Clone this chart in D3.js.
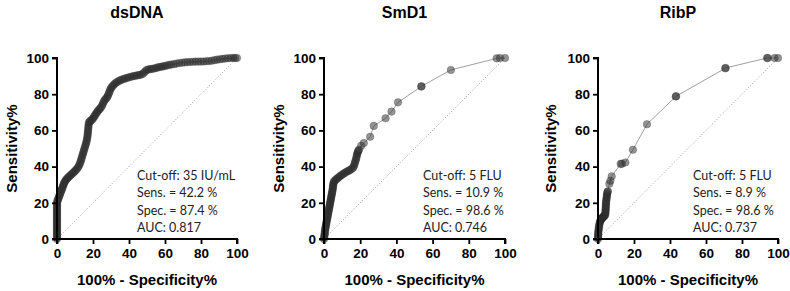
<!DOCTYPE html>
<html><head><meta charset="utf-8">
<script src="https://cdn.jsdelivr.net/npm/d3@7"></script>
<style>body{margin:0;background:#fff}svg{display:block}</style>
</head><body>
<svg id="c" width="790" height="291"></svg>
<script>
const titles = ["dsDNA", "SmD1", "RibP"];
const tickValues = [0, 20, 40, 60, 80, 100];
const xTitle = "100% - Specificity%";
const yTitle = "Sensitivity%";

const dsdnaX = [0,0,0,0,0,0,0,0,0,0,0,0,0,0,0,0,0,0,0,0,0,0,0,0,0,0,
  0.2,0.4,0.7,1,1.3,1.6,1.9,2.2,2.5,2.8,3.1,3.4,3.7,4,4.4,4.8,5.3,5.8,6.3,6.9,7.5,8.1,8.7,9.3,9.9,10.5,11.1,11.7,12.2,12.6,13,13.3,13.6,13.9,14.2,14.5,14.8,15.1,15.4,15.7,16,16.3,16.5,16.7,16.9,17,17.1,17.2,17.3,17.4,17.5,17.6,17.7,18.2,18.8,19.4,19.9,20.4,20.9,21.4,21.9,22.4,22.9,23.5,24.1,24.7,25.2,25.6,26,26.5,27.1,27.7,28.2,28.6,29,29.4,29.8,30.3,30.9,31.5,32.2,33,33.8,34.7,35.6,
  36.6,37.6,38.6,39.6,40.6,41.6,42.6,43.6,44.6,45.6,46.6,47.6,48.4,49.2,50,51,52,53,54,55,56,57,58,59,60,61.2,62.4,63.6,65,66.5,68,69.5,71,72.5,74,75.5,77,78.5,80,81.5,83,84.5,86,87.5,89,90.5,92,93.5,95,96.5,98,99,100];
const dsdnaY = [0,0.8,1.6,2.4,3.2,4,4.8,5.6,6.4,7.2,8,8.8,9.6,10.4,11.2,12,12.8,13.6,14.4,15.2,16,16.8,17.6,18.4,19.2,20,
  20.8,21.5,22.2,23,23.8,24.6,25.4,26.2,27,27.8,28.6,29.4,30.2,31,31.7,32.4,33,33.6,34.1,34.7,35.2,35.8,36.3,36.9,37.5,38.1,38.8,39.6,40.5,41.4,42.4,43.4,44.4,45.4,46.4,47.4,48.4,49.4,50.4,51.4,52.4,53.4,54.4,55.4,56.4,57.4,58.4,59.4,60.4,61.4,62.4,63.4,64.4,65,65.4,65.9,66.5,67.2,68,68.8,69.6,70.3,71,71.6,72.3,73.1,74,75,76,76.8,77.4,78.1,79,80,81,82,83,83.8,84.5,85.2,85.9,86.5,87,87.5,87.9,
  88.3,88.6,88.9,89.2,89.5,89.8,90,90.2,90.4,90.6,90.8,91.2,92,92.8,93.5,93.7,93.9,94,94.2,94.5,94.8,95,95.2,95.4,95.6,95.9,96.2,96.4,96.6,96.9,97.2,97.4,97.6,97.7,97.8,97.9,98,98,98,98.1,98.2,98.3,98.5,98.8,99.1,99.3,99.5,99.7,99.9,100,100,100,100];

const smd1X = [0,0.1,0.2,0.3,0.4,0.5,0.6,0.7,0.85,1,1.15,1.3,1.45,1.6,1.75,1.9,2.05,2.2,2.35,2.5,2.65,2.8,2.95,3.1,3.25,3.4,3.55,3.7,3.85,4,4.15,4.3,4.45,4.6,4.75,4.85,4.95,5.05,5.15,5.3,5.6,6.2,6.8,7.4,8,8.7,9.4,10.1,10.8,11.6,12.4,13.2,14,14.8,15.6,16.2,16.6,16.9,17.2,17.5,17.8,18,18.2,18.4,18.7,19,19.4,20.5,22,25.5,27.5,34,37.3,40.9,53.7,53.9,70.1,95.4,97.2,100];
const smd1Y = [0,0.8,1.6,2.4,3.2,4,4.8,5.6,6.4,7.2,8,8.8,9.6,10.4,11.2,12,12.8,13.6,14.4,15.2,16,16.8,17.6,18.4,19.2,20,20.8,21.6,22.4,23.2,24,24.8,25.6,26.4,27.2,28,28.8,29.6,30.4,31.2,31.9,32.5,33,33.5,34,34.6,35.1,35.6,36.1,36.6,37.1,37.5,37.9,38.4,38.9,39.6,40.5,41.5,42.5,43.5,44.5,45.5,46.5,47.3,48.1,48.8,49.4,51.5,53,56.5,62.5,66.7,70.4,75.5,84.2,84.4,93.4,99.8,100,100];

const ribpX = [0,0,0.05,0.1,0.15,0.2,0.3,0.4,0.5,0.6,0.75,0.9,1.1,1.35,1.6,1.9,2.2,2.5,2.8,3.1,3.4,3.7,4,4.1,4.15,4.2,4.25,4.3,4.35,4.4,4.45,4.5,4.6,4.7,4.8,4.9,5,5.1,5.3,5.5,6.3,6.9,7.6,12.6,13.3,15.2,19.4,27.2,43.2,43.4,70.7,70.9,93.9,94.3,98.1,100];
const ribpY = [0,0.8,1.6,2.4,3.2,4,4.8,5.6,6.4,7.2,8,8.8,9.5,10.1,10.6,11,11.4,11.8,12.1,12.4,12.7,13,13.3,14.1,14.9,15.7,16.5,17.3,18.1,18.9,19.7,20.5,21.3,22.1,22.9,23.7,24.5,25.3,26.1,26.4,30.5,32.2,34.6,41.5,41.6,42.3,49.3,63.4,78.7,78.9,94.3,94.5,100,100,100,100];

const notes = [
  ["Cut-off: 35 IU/mL", "Sens. = 42.2 %", "Spec. = 87.4 %", "AUC: 0.817"],
  ["Cut-off: 5 FLU", "Sens. = 10.9 %", "Spec. = 98.6 %", "AUC: 0.746"],
  ["Cut-off: 5 FLU", "Sens. = 8.9 %", "Spec. = 98.6 %", "AUC: 0.737"]
];

const seriesX = [dsdnaX, smd1X, ribpX];
const seriesY = [dsdnaY, smd1Y, ribpY];

const panels = [
  {x0: 57, x1: 237, yTitleX: 11, noteX: 137},
  {x0: 324, x1: 505, yTitleX: 278, noteX: 423},
  {x0: 598, x1: 778, yTitleX: 550, noteX: 693}
];
const yTop = 58, yBot = 239;
const svg = d3.select("#c");
const bold = "'Liberation Sans', Arial, sans-serif";

panels.forEach((p, i) => {
  const x = d3.scaleLinear().domain([0, 100]).range([p.x0, p.x1]);
  const y = d3.scaleLinear().domain([0, 100]).range([yBot, yTop]);
  const g = svg.append("g");

  g.append("line")
    .attr("x1", x(0)).attr("y1", y(0)).attr("x2", x(100)).attr("y2", y(100))
    .attr("stroke", "#888").attr("stroke-width", 0.8).attr("stroke-dasharray", "1,2");

  const pts = seriesX[i].map((v, k) => [v, seriesY[i][k]]);
  g.append("path").datum(pts)
    .attr("d", d3.line().x(d => x(d[0])).y(d => y(d[1])))
    .attr("fill", "none").attr("stroke", "#a0a0a0").attr("stroke-width", 1);
  g.selectAll("circle").data(pts).join("circle")
    .attr("cx", d => x(d[0])).attr("cy", d => y(d[1])).attr("r", 3.8)
    .attr("fill", "rgba(50,50,50,0.52)")
    .attr("stroke", "rgba(30,30,30,0.4)").attr("stroke-width", 0.6);

  const xa = g.append("g").attr("transform", `translate(0,${yBot})`)
    .call(d3.axisBottom(x).tickValues(tickValues).tickSize(5).tickPadding(4));
  const ya = g.append("g").attr("transform", `translate(${p.x0},0)`)
    .call(d3.axisLeft(y).tickValues(tickValues).tickSize(5).tickPadding(3));
  [xa, ya].forEach(a => {
    a.select(".domain").attr("stroke", "#000").attr("stroke-width", 2);
    a.selectAll(".tick line").attr("stroke", "#000").attr("stroke-width", 1.8);
    a.selectAll(".tick text").attr("fill", "#000")
      .style("font-family", bold).style("font-weight", "bold").style("font-size", "13.5px");
  });
  xa.select(".domain").attr("d", `M${p.x0},5V0H${p.x1}V5`);
  ya.select(".domain").attr("d", `M-5,${yBot}H0V${yTop}H-5`);

  g.append("text").attr("x", (p.x0 + p.x1) / 2 - 10).attr("y", 18)
    .attr("text-anchor", "middle").text(titles[i])
    .style("font-family", bold).style("font-weight", "bold").style("font-size", "16px");
  g.append("text").attr("x", (p.x0 + p.x1) / 2).attr("y", 285)
    .attr("text-anchor", "middle").text(xTitle)
    .style("font-family", bold).style("font-weight", "bold").style("font-size", "15px");
  g.append("text")
    .attr("transform", `translate(${p.yTitleX + 5.5},${(yTop + yBot) / 2}) rotate(-90)`)
    .attr("text-anchor", "middle").text(yTitle)
    .style("font-family", bold).style("font-weight", "bold").style("font-size", "15px");

  notes[i].forEach((t, k) => {
    g.append("text").attr("x", p.noteX).attr("y", 179.5 + k * 17.5).text(t)
      .attr("fill", "#222")
      .style("font-family", "Lato, 'Open Sans', sans-serif").style("font-size", "12.5px");
  });
});
</script>
</body></html>
